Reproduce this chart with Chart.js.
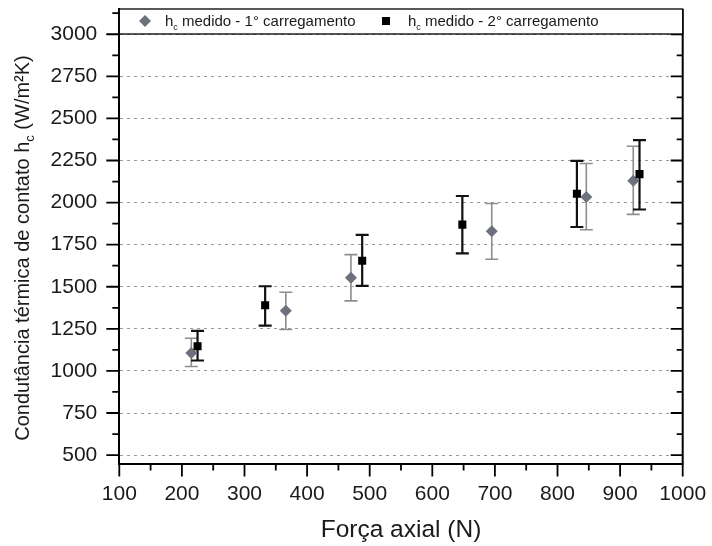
<!DOCTYPE html>
<html>
<head>
<meta charset="utf-8">
<script src="https://cdn.jsdelivr.net/npm/chart.js@4/dist/chart.umd.min.js"></script>
<style>
  html, body { margin: 0; padding: 0; background: #ffffff; }
  #wrap { width: 712px; height: 546px; }
</style>
</head>
<body>
<div id="wrap"><canvas id="c" width="712" height="546"></canvas></div>
<script>
// ---- data ----
const xForce1 = [215, 366, 470, 695, 846, 921];
const hc1     = [1107, 1357, 1554, 1829, 2033, 2130];
const hc1Low  = [1026, 1246, 1416, 1663, 1839, 1930];
const hc1High = [1194, 1467, 1691, 1995, 2232, 2335];

const xForce2 = [225, 333, 488, 648, 831, 931];
const hc2     = [1147, 1390, 1655, 1869, 2053, 2169];
const hc2Low  = [1062, 1269, 1505, 1698, 1855, 1959];
const hc2High = [1238, 1503, 1808, 2039, 2248, 2371];

const xTickVals = [100, 200, 300, 400, 500, 600, 700, 800, 900, 1000];
const yTickVals = [500, 750, 1000, 1250, 1500, 1750, 2000, 2250, 2500, 2750, 3000];
const xRange = [100, 1000];
const yRange = [450, 3150];

const legend1 = ["h", "c", " medido - 1° carregamento"];
const legend2 = ["h", "c", " medido - 2° carregamento"];
const xTitle = "Força axial (N)";
const yTitle = ["Condutância térmica de contato h", "c", " (W/m²K)"];

const FONT = '"Liberation Sans", Arial, sans-serif';
const TXT = '#1a1a1a';

function minorOf(vals) {
  const out = [];
  for (let i = 0; i < vals.length - 1; i++) out.push((vals[i] + vals[i + 1]) / 2);
  return out;
}

function drawSubText(ctx, parts, x, y, size, subSize, subDrop) {
  ctx.font = size + 'px ' + FONT;
  ctx.fillText(parts[0], x, y);
  let w = ctx.measureText(parts[0]).width;
  ctx.font = subSize + 'px ' + FONT;
  ctx.fillText(parts[1], x + w, y + subDrop);
  w += ctx.measureText(parts[1]).width;
  ctx.font = size + 'px ' + FONT;
  ctx.fillText(parts[2], x + w, y);
}
function measureSub(ctx, parts, size, subSize) {
  ctx.font = size + 'px ' + FONT;
  let w = ctx.measureText(parts[0]).width + ctx.measureText(parts[2]).width;
  ctx.font = subSize + 'px ' + FONT;
  w += ctx.measureText(parts[1]).width;
  return w;
}
function noPad(s) { s.paddingTop = 0; s.paddingBottom = 0; s.paddingLeft = 0; s.paddingRight = 0; }

const decor = {
  id: 'decor',
  beforeDraw(chart) {
    const ctx = chart.ctx;
    ctx.save();
    ctx.fillStyle = '#ffffff';
    ctx.fillRect(0, 0, chart.width, chart.height);
    ctx.restore();
  },
  beforeDatasetsDraw(chart) {
    const ctx = chart.ctx, xs = chart.scales.x, ys = chart.scales.y;
    const bars = [
      { x: xForce1, lo: hc1Low, hi: hc1High, color: '#8e8e8e', w: 1.6 },
      { x: xForce2, lo: hc2Low, hi: hc2High, color: '#111111', w: 2.2 }
    ];
    ctx.save();
    bars.forEach(b => {
      ctx.strokeStyle = b.color;
      ctx.lineWidth = b.w;
      for (let i = 0; i < b.x.length; i++) {
        const px = xs.getPixelForValue(b.x[i]);
        const y1 = ys.getPixelForValue(b.lo[i]);
        const y2 = ys.getPixelForValue(b.hi[i]);
        ctx.beginPath();
        ctx.moveTo(px, y1); ctx.lineTo(px, y2);
        ctx.moveTo(px - 6.5, y1); ctx.lineTo(px + 6.5, y1);
        ctx.moveTo(px - 6.5, y2); ctx.lineTo(px + 6.5, y2);
        ctx.stroke();
      }
    });
    ctx.restore();
  },
  afterDraw(chart) {
    const ctx = chart.ctx, xs = chart.scales.x, ys = chart.scales.y;
    const a = chart.chartArea;
    ctx.save();
    ctx.strokeStyle = '#000';
    ctx.lineWidth = 2;
    ctx.beginPath();
    ctx.moveTo(a.right, a.top); ctx.lineTo(a.right, a.bottom + 1);
    ctx.stroke();
    ctx.lineWidth = 1.8;
    ctx.beginPath();
    yTickVals.forEach(v => {
      const p = ys.getPixelForValue(v);
      ctx.moveTo(a.left - 13, p); ctx.lineTo(a.left, p);
      ctx.moveTo(a.right - 12, p); ctx.lineTo(a.right, p);
    });
    minorOf(yTickVals).concat([3125]).forEach(v => {
      const p = ys.getPixelForValue(v);
      ctx.moveTo(a.left - 7, p); ctx.lineTo(a.left, p);
      ctx.moveTo(a.right - 6, p); ctx.lineTo(a.right, p);
    });
    xTickVals.forEach(v => {
      const p = xs.getPixelForValue(v);
      ctx.moveTo(p, a.bottom); ctx.lineTo(p, a.bottom + 13);
    });
    minorOf(xTickVals).forEach(v => {
      const p = xs.getPixelForValue(v);
      ctx.moveTo(p, a.bottom); ctx.lineTo(p, a.bottom + 7);
    });
    ctx.stroke();

    // legend box
    const lb = { x: a.left, y: a.top, w: a.right - a.left, h: 25 };
    ctx.fillStyle = '#fff';
    ctx.fillRect(lb.x, lb.y, lb.w, lb.h);
    ctx.lineWidth = 1.3;
    ctx.strokeRect(lb.x, lb.y, lb.w, lb.h);
    const my = lb.y + 12;
    ctx.fillStyle = '#6d707d';
    ctx.beginPath();
    ctx.moveTo(145 - 6, my); ctx.lineTo(145, my - 6); ctx.lineTo(145 + 6, my); ctx.lineTo(145, my + 6);
    ctx.closePath(); ctx.fill();
    ctx.fillStyle = '#000';
    ctx.fillRect(386 - 4, my - 4, 8, 8);
    ctx.fillStyle = TXT;
    ctx.textBaseline = 'alphabetic';
    ctx.textAlign = 'left';
    drawSubText(ctx, legend1, 165, lb.y + 17, 15, 9, 4);
    drawSubText(ctx, legend2, 408, lb.y + 17, 15, 9, 4);

    // x title
    ctx.font = '24.5px ' + FONT;
    ctx.textAlign = 'center';
    ctx.fillText(xTitle, (a.left + a.right) / 2, 537);

    // y title (rotated)
    ctx.save();
    ctx.translate(29, 248);
    ctx.rotate(-Math.PI / 2);
    ctx.textAlign = 'left';
    const tw = measureSub(ctx, yTitle, 20, 13);
    drawSubText(ctx, yTitle, -tw / 2, 0, 20, 13, 5);
    ctx.restore();
    ctx.restore();
  }
};

new Chart(document.getElementById('c'), {
  type: 'scatter',
  data: {
    datasets: [
      {
        label: 'hc medido - 2° carregamento',
        data: xForce2.map((x, i) => ({ x, y: hc2[i] })),
        pointStyle: 'rect', radius: 5.7, borderWidth: 0,
        backgroundColor: '#000000', borderColor: '#000000', order: 0
      },
      {
        label: 'hc medido - 1° carregamento',
        data: xForce1.map((x, i) => ({ x, y: hc1[i] })),
        pointStyle: 'rectRot', radius: 6, borderWidth: 0,
        backgroundColor: '#6d707d', borderColor: '#6d707d', order: 1
      }
    ]
  },
  options: {
    responsive: false,
    animation: false,
    devicePixelRatio: 1,
    layout: { padding: { left: 0, top: 9, right: 29.3, bottom: 0 } },
    plugins: { legend: { display: false }, tooltip: { enabled: false } },
    scales: {
      x: {
        type: 'linear', min: xRange[0], max: xRange[1],
        afterBuildTicks: s => { s.ticks = xTickVals.map(v => ({ value: v })); },
        afterFit: s => { s.height = 82.5; noPad(s); },
        grid: { display: false, drawTicks: false },
        border: { display: true, color: '#000', width: 2 },
        ticks: { color: TXT, font: { family: FONT, size: 21 }, padding: 18, maxRotation: 0, autoSkip: false,
                 callback: v => String(v) }
      },
      y: {
        type: 'linear', min: yRange[0], max: yRange[1],
        afterBuildTicks: s => { s.ticks = yTickVals.map(v => ({ value: v })); },
        afterFit: s => { s.width = 119.3; noPad(s); },
        grid: { display: true, drawTicks: false, color: '#9a9a9a', lineWidth: 1 },
        border: { display: true, color: '#000', width: 2, dash: [3, 4] },
        ticks: { color: TXT, font: { family: FONT, size: 21 }, padding: 22, autoSkip: false,
                 callback: v => String(v) }
      }
    }
  },
  plugins: [decor]
});
</script>
</body>
</html>
